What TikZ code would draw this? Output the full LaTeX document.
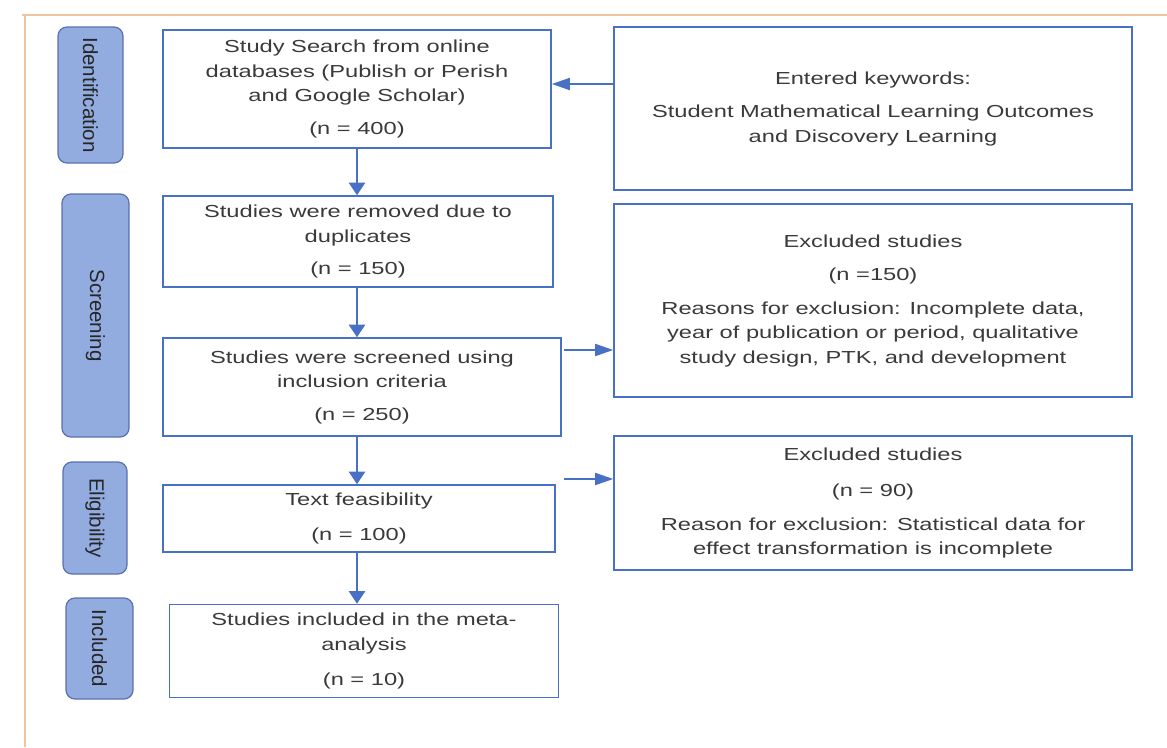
\documentclass[tikz,border=0pt]{standalone}
\usepackage{fontspec}
\setmainfont{Liberation Sans}[FakeStretch=1.36]
\newfontfamily\phasefont{Liberation Sans}
\usepackage{tikz}
\usetikzlibrary{calc, positioning, arrows.meta}
\usepackage{xcolor}
\definecolor{prismablue}{RGB}{72,112,196}
\definecolor{prismaedge}{RGB}{90,112,176}
\definecolor{prismafill}{RGB}{146,172,224}
\definecolor{prismatext}{RGB}{58,58,58}
\definecolor{pageedge}{RGB}{240,196,160}
\tikzset{
    flowbox/.style={draw=prismablue, line width=1.6pt, fill=white, align=center, inner sep=0pt, text=prismatext, font=\fontsize{17.4}{24.5}\selectfont},
    phasebox/.style={draw=prismaedge, line width=1.2pt, rounded corners=9pt, fill=prismafill, inner sep=0pt},
    phasetext/.style={rotate=-90, text=black!85, font=\phasefont\fontsize{20.5}{22}\selectfont},
    harrow/.style={-{Triangle[length=18pt, width=12pt]}, line width=1.8pt, draw=prismablue},
    varrow/.style={-{Triangle[length=12.5pt, width=16pt]}, line width=2.2pt, draw=prismablue}
}

\begin{document}
\begin{tikzpicture}[x=1pt,y=-1pt]
            \useasboundingbox (0,0) rectangle (1167,747);
            \draw[pageedge, line width=1.5pt] (22,15) -- (1167,15);
            \draw[pageedge, line width=1.5pt] (25,15) -- (25,747);
            % phase labels
            \node[phasebox, minimum width=65pt, minimum height=136pt] (idlab) at (90.5,95) {};
            \node[phasebox, minimum width=67pt, minimum height=243pt] (scrlab) at (95.5,315.5) {};
            \node[phasebox, minimum width=64pt, minimum height=112pt] (elilab) at (95,518) {};
            \node[phasebox, minimum width=67pt, minimum height=101pt] (inclab) at (99.5,648.5) {};
            \node[phasetext] at (idlab) {Identification};
            \node[phasetext] at (scrlab) {Screening};
            \node[phasetext] at (elilab) {Eligibility};
            \node[phasetext] at (inclab) {Included};
            % main flow
            \node[flowbox, minimum width=388pt, minimum height=118pt] (search) at (357,89)
                {Study Search from online\\databases (Publish or Perish\\and Google Scholar)\\[8pt](n = 400)};
            \node[flowbox, minimum width=390pt, minimum height=91pt] (dup) at (358,241.5)
                {Studies were removed due to\\duplicates\\[8pt](n = 150)};
            \node[flowbox, minimum width=398pt, minimum height=98pt] (screen) at (362,387)
                {Studies were screened using\\inclusion criteria\\[8pt](n = 250)};
            \node[flowbox, minimum width=392pt, minimum height=67pt] (feas) at (359,518.5)
                {Text feasibility\\[11pt](n = 100)};
            \node[flowbox, minimum width=389pt, minimum height=93pt] (incl) at (364,651)
                {Studies included in the meta-\\analysis\\[11pt](n = 10)};
            % side boxes
            \node[flowbox, minimum width=518pt, minimum height=163pt] (keys) at (873,108.5)
                {Entered keywords:\\[9pt]Student Mathematical Learning Outcomes\\and Discovery Learning};
            \node[flowbox, minimum width=518pt, minimum height=193pt] (excla) at (873,300.5)
                {Excluded studies\\[9pt](n =150)\\[9pt]Reasons for exclusion: Incomplete data,\\year of publication or period, qualitative\\study design, PTK, and development};
            \node[flowbox, minimum width=518pt, minimum height=134pt] (exclb) at (873,503)
                {Excluded studies\\[12pt](n = 90)\\[9pt]Reason for exclusion: Statistical data for\\effect transformation is incomplete};
            % connectors
            \draw[harrow] ([yshift=24.5pt]keys.west) -- ([yshift=24.5pt]keys.west -| search.east);
            \draw[varrow] (search.south) -- (search.south |- dup.north);
            \draw[varrow] (search.south |- dup.south) -- (search.south |- screen.north);
            \draw[varrow] (search.south |- screen.south) -- (search.south |- feas.north);
            \draw[varrow] (search.south |- feas.south) -- (search.south |- incl.north);
            \draw[harrow] ([xshift=2pt,yshift=-49.5pt]excla.west -| screen.east) -- ([yshift=-49.5pt]excla.west);
            \draw[harrow] ([xshift=8pt,yshift=24pt]exclb.west -| feas.east) -- ([yshift=24pt]exclb.west);
        \end{tikzpicture}
\end{document}
